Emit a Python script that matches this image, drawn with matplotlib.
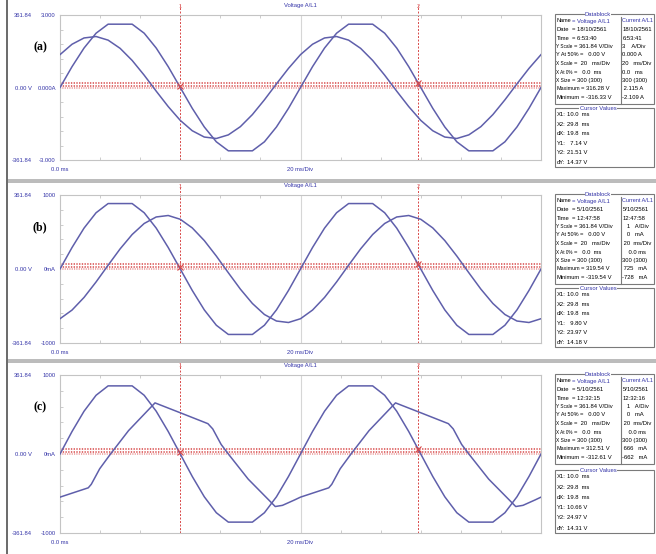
import numpy as np
import matplotlib.pyplot as plt
from matplotlib.patches import Rectangle
from matplotlib.ticker import MultipleLocator

W, H = 656, 554

# ---- values ----
t_ms = list(range(0, 41))  # 1 ms samples 0..40 ms

volt_a = [0, 104, 197, 271, 316, 316, 316, 271, 197, 104, 0, -104, -197, -271, -316, -316, -316, -271, -197, -104,
          0, 104, 197, 271, 316, 316, 316, 271, 197, 104, 0, -104, -197, -271, -316, -316, -316, -271, -197, -104, 0]
curr_a = [1.36, 1.79, 2.05, 2.11, 1.96, 1.62, 1.12, 0.51, -0.15, -0.79, -1.36, -1.79, -2.05, -2.11, -1.96, -1.62,
          -1.12, -0.51, 0.15, 0.79,
          1.36, 1.79, 2.05, 2.11, 1.96, 1.62, 1.12, 0.51, -0.15, -0.79, -1.36, -1.79, -2.05, -2.11, -1.96, -1.62,
          -1.12, -0.51, 0.15, 0.79, 1.36]

volt_b = [0, 105, 200, 275, 320, 320, 320, 275, 200, 105, 0, -105, -200, -275, -320, -320, -320, -275, -200, -105,
          0, 105, 200, 275, 320, 320, 320, 275, 200, 105, 0, -105, -200, -275, -320, -320, -320, -275, -200, -105, 0]
curr_b = [-672, -555, -384, -175, 51, 272, 466, 615, 703, 723, 672, 555, 384, 175, -51, -272, -466, -615, -703, -723,
          -672, -555, -384, -175, 51, 272, 466, 615, 703, 723, 672, 555, 384, 175, -51, -272, -466, -615, -703, -723,
          -672]

volt_c = [0, 103, 196, 269, 312, 312, 312, 269, 196, 103, 0, -103, -196, -269, -312, -312, -312, -269, -196, -103,
          0, 103, 196, 269, 312, 312, 312, 269, 196, 103, 0, -103, -196, -269, -312, -312, -312, -269, -196, -103, 0]
t_c = [0, 2.35, 2.6, 3.3, 4.2, 5.7, 7.9, 10.1, 12.3, 12.7, 13.4, 14.0, 15.65, 17.9, 18.5, 19.5,
       20.0, 22.35, 22.6, 23.3, 24.2, 25.7, 27.9, 30.1, 32.3, 32.7, 33.4, 34.0, 35.65, 37.9, 38.5, 39.5, 40.0]
curr_c = [-546, -428, -384, -187, 0, 296, 647, 516, 384, 318, 121, 0, -318, -665, -650, -582,
          -546, -428, -384, -187, 0, 296, 647, 516, 384, 318, 121, 0, -318, -665, -650, -582, -546]

cursor_x = (10.0, 29.8)
cursor_y = {"a": (7.14, 21.51), "b": (9.80, 23.97), "c": (10.66, 24.97)}

db_names = ["Name", "Date", "Time", "Y Scale", "Y At 50%", "X Scale", "X At 0%", "X Size", "Maximum", "Minimum"]
db_volt = {
    "a": ["Voltage A/L1", "18/10/2561", "6:53:40", "361.84 V/Div", "  0.00 V", " 20   ms/Div", "  0.0  ms",
          "300 (300)", "316.28 V", "-316.33 V"],
    "b": ["Voltage A/L1", "5/10/2561", "12:47:58", "361.84 V/Div", "  0.00 V", " 20   ms/Div", "  0.0  ms",
          "300 (300)", "319.54 V", "-319.54 V"],
    "c": ["Voltage A/L1", "5/10/2561", "12:32:15", "361.84 V/Div", "  0.00 V", " 20   ms/Div", "  0.0  ms",
          "300 (300)", "312.51 V", "-312.61 V"],
}
db_curr = {
    "a": ["Current A/L1", "18/10/2561", "6:53:41", "3    A/Div", "0.000 A", "20   ms/Div", "0.0   ms",
          "300 (300)", " 2.115 A", "-2.109 A"],
    "b": ["Current A/L1", "5/10/2561", "12:47:58", "   1   A/Div", "   0   mA", " 20  ms/Div", "    0.0 ms",
          "300 (300)", " 725   mA", "-728   mA"],
    "c": ["Current A/L1", "5/10/2561", "12:32:16", "   1   A/Div", "   0   mA", " 20  ms/Div", "    0.0 ms",
          "300 (300)", " 666   mA", "-662   mA"],
}
cur_names = ["X1:", "X2:", "dX:", "Y1:", "Y2:", "dY:"]
cur_vals = {
    "a": ["10.0  ms", "29.8  ms", "19.8  ms", "  7.14 V", "21.51 V", "14.37 V"],
    "b": ["10.0  ms", "29.8  ms", "19.8  ms", "  9.80 V", "23.97 V", "14.18 V"],
    "c": ["10.0  ms", "29.8  ms", "19.8  ms", "10.66 V", "24.97 V", "14.31 V"],
}
curr_lim = {"a": 3.0, "b": 1000, "c": 1000}
curr_ticks = {"a": ["-3.000", "0.000A", "3.000"], "b": ["-1000", "0mA", "1000"], "c": ["-1000", "0mA", "1000"]}

# ---- layout (pixels) ----
plot_box = {"a": (60, 15, 541, 160), "b": (60, 195, 541, 343), "c": (60, 375, 541, 533)}
db_top = {"a": 14, "b": 194, "c": 374}
cur_box = {"a": (108, 167), "b": (288, 347), "c": (470, 533)}
tag_pos = {"a": (40, 47), "b": (40, 227), "c": (40, 407)}
v_pos = {"a": (82, 62), "b": (82, 225), "c": (82, 413)}
i_pos = {"a": (83, 27), "b": (83, 285), "c": (83, 477)}
eq_x = [572, 572, 572, 574, 580, 574, 574, 572, 581, 581]

TRACE = "#5f5fab"
BLUE = "#3434a8"
RED = "#d84848"
NARROW = ["Liberation Sans Narrow", "Liberation Sans", "DejaVu Sans"]
SERIF = ["Liberation Serif", "DejaVu Serif"]
FS = 4.2

fig = plt.figure(figsize=(W / 100, H / 100), dpi=100)
renderer = fig.canvas.get_renderer()
bg = fig.add_axes([0, 0, 1, 1])
bg.set_xlim(0, W)
bg.set_ylim(H, 0)
bg.axis("off")

# window separators and left frame line
bg.add_patch(Rectangle((8, 179), W - 8, 4, color="#bcbcbc", lw=0))
bg.add_patch(Rectangle((8, 359), W - 8, 4, color="#bcbcbc", lw=0))
bg.plot([7, 7], [0, H], color="#505050", lw=1.2)


def fit_text(x, y, s, maxw, size=FS, **kw):
    t = bg.text(x, y, s, fontsize=size, va="center", family=NARROW, **kw)
    w = t.get_window_extent(renderer).width
    if w > maxw:
        t.set_fontsize(size * maxw / w)
    return t


def px_axes(box):
    l, t, r, b = box
    return fig.add_axes([l / W, 1 - b / H, (r - l) / W, (b - t) / H])


def draw_panel(key, tv, v, ti, i):
    ax = px_axes(plot_box[key])
    ax.set_xlim(0, 40)
    ax.set_ylim(-361.84, 361.84)
    for s in ax.spines.values():
        s.set_color("#c4c4c4")
        s.set_linewidth(0.8)
    ax.axvline(20, color="#d6d6d6", lw=0.8, zorder=0)
    ax.xaxis.set_minor_locator(MultipleLocator(20 / 6))
    ax.yaxis.set_minor_locator(MultipleLocator(361.84 / 5))
    ax.tick_params(which="minor", direction="in", length=2.5, color="#c4c4c4",
                   top=True, bottom=True, left=True, right=True)
    ax.set_xticks([0, 20], ["0.0 ms", "20 ms/Div"])
    ax.set_yticks([-361.84, 0, 361.84], ["-361.84", "0.00 V", "361.84"])
    ax.tick_params(which="major", length=0, labelsize=4.2, labelcolor=BLUE)
    ax.tick_params(axis="x", which="major", pad=5)
    ax.tick_params(axis="y", which="major", pad=20)
    for lab in ax.get_xticklabels() + ax.get_yticklabels():
        lab.set_family(NARROW)
    ax.set_title("Voltage A/L1", fontsize=4.2, color=BLUE, pad=6, family=NARROW)

    # cursors
    for n, xc in enumerate(cursor_x):
        ax.axvline(xc, ymin=0, ymax=1.07, clip_on=False, color=RED, lw=0.7, ls=(0, (2, 1.6)))
        ax.text(xc, 1.06, str(n + 1), transform=ax.get_xaxis_transform(), fontsize=3.5,
                color=RED, ha="center", va="center")
    for yc in cursor_y[key]:
        ax.axhline(yc, color="#e07070", lw=1.4, ls=(0, (0.7, 0.7)))
    ax.axhline(0, color="#eba0a0", lw=1.2, ls=(0, (0.7, 0.7)))
    ax.plot(cursor_x, cursor_y[key], ls="none", marker="x", ms=5, mew=0.8, color=RED, zorder=5)

    ax.plot(tv, v, color=TRACE, lw=1.1, zorder=4)

    ax2 = ax.twinx()
    lim = curr_lim[key]
    ax2.set_ylim(-lim, lim)
    ax2.yaxis.tick_left()
    ax2.set_yticks([-lim, 0, lim], curr_ticks[key])
    ax2.tick_params(length=0, labelsize=4.2, labelcolor=BLUE, pad=3)
    for lab in ax2.get_yticklabels():
        lab.set_family(NARROW)
    for s in ax2.spines.values():
        s.set_visible(False)
    ax2.plot(ti, i, color=TRACE, lw=1.1, zorder=4)

    # panel tag and trace names
    bg.text(*tag_pos[key], "(%s)" % key, fontsize=8.5, fontweight="bold", family=SERIF,
            ha="center", va="center")
    bg.text(*v_pos[key], "V", fontsize=8.5, fontweight="bold", family=SERIF, ha="center", va="center")
    bg.text(*i_pos[key], "I", fontsize=8.5, fontweight="bold", family=SERIF, ha="center", va="center")

    # datablock
    top = db_top[key]
    bottom = top + 90
    bg.add_patch(Rectangle((555, top), 99, bottom - top, fill=False, ec="#7a7a7a", lw=0.8))
    bg.plot([621, 621], [top + 3, bottom], color="#7a7a7a", lw=0.8)
    fit_text(598, top, "Datablock", 40, color=BLUE, ha="center",
             bbox=dict(fc="white", ec="none", pad=0.2))
    for r in range(10):
        y = top + 7 + r * 8.5
        fit_text(556.5, y, db_names[r], eq_x[r] - 557.5)
        fit_text(eq_x[r], y, "= " + db_volt[key][r], 619.5 - eq_x[r], color=BLUE if r == 0 else "black")
        fit_text(622.5, y, db_curr[key][r], 31, color=BLUE if r == 0 else "black")

    ct, cb = cur_box[key]
    bg.add_patch(Rectangle((555, ct), 99, cb - ct, fill=False, ec="#7a7a7a", lw=0.8))
    fit_text(598, ct, "Cursor Values", 50, color=BLUE, ha="center",
             bbox=dict(fc="white", ec="none", pad=0.2))
    step = (cb - ct - 12) / 5
    for r in range(6):
        y = ct + 7 + r * step
        fit_text(556.5, y, cur_names[r], 10)
        fit_text(567, y, cur_vals[key][r], 40)


draw_panel("a", t_ms, volt_a, t_ms, curr_a)
draw_panel("b", t_ms, volt_b, t_ms, curr_b)
draw_panel("c", t_ms, volt_c, t_c, curr_c)

fig.savefig("out.png", dpi=100)
